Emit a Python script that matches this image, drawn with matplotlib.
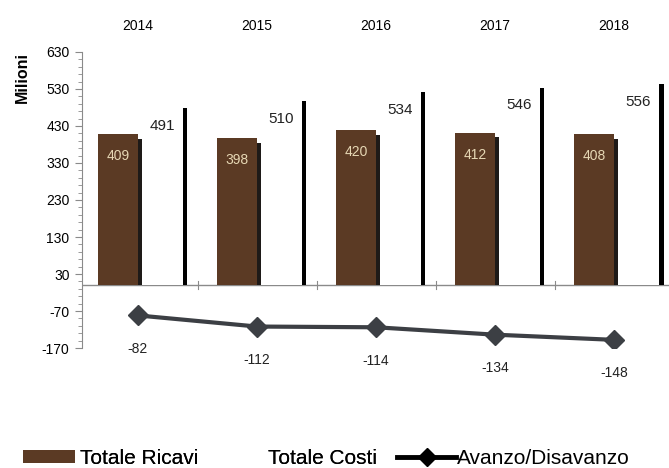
import numpy as np
import matplotlib.pyplot as plt
from matplotlib.patches import Patch
from matplotlib.lines import Line2D

plt.rcParams['font.family'] = ['Liberation Sans', 'DejaVu Sans']
plt.rcParams['axes.unicode_minus'] = False

# ===== data =====
years = ["2014", "2015", "2016", "2017", "2018"]
ricavi = [409, 398, 420, 412, 408]
costi = [491, 510, 534, 546, 556]
avanzo = [-82, -112, -114, -134, -148]

BROWN = "#5b3a24"
SHADOW = "#1e1a18"
LINE = "#3c3f44"

x = np.arange(len(years))
w_front = 0.336
w_side = 0.034
drop = 13  # 3d side sits a bit lower than the front face

fig = plt.figure(figsize=(6.69, 4.68), dpi=100)
ax = fig.add_axes([0.1226, 0.2564, 0.8774, 0.6325])

# Totale Ricavi: brown front + dark side
ax.bar(x - w_front, ricavi, width=w_front, align="edge", color=BROWN, zorder=3)
ax.bar(x, np.array(ricavi) - drop, width=w_side, align="edge", color=SHADOW, zorder=3)

# Totale Costi: white front + black side
ax.bar(x + w_side, costi, width=w_front + 0.01, align="edge", color="white", zorder=3)
ax.bar(x + w_side + w_front + 0.01, np.array(costi) - drop, width=w_side,
       align="edge", color="black", zorder=3)

for i in range(len(years)):
    ax.annotate(str(ricavi[i]), (x[i] - w_front / 2, ricavi[i]), xytext=(0, -16),
                textcoords="offset points", ha="center", va="center",
                color="#e6d7b4", fontsize=10, zorder=5)
    ax.annotate(str(costi[i]), (x[i] + w_side + w_front / 2, costi[i]), xytext=(0, -16),
                textcoords="offset points", ha="center", va="center",
                color="#222222", fontsize=11, zorder=5)
    ax.annotate(str(avanzo[i]), (x[i], avanzo[i]), xytext=(0, -24),
                textcoords="offset points", ha="center", va="center",
                color="#222222", fontsize=10, zorder=5)

# Avanzo/Disavanzo line
ax.plot(x, avanzo, color=LINE, lw=3, marker="D", markersize=10, zorder=4)

# zero line with category boundary ticks
ax.axhline(0, color="#8a8a8a", lw=1, zorder=2)
for b in x[:-1] + 0.5:
    ax.plot([b, b], [-10, 10], color="#8a8a8a", lw=0.8, zorder=2)

ax.set_xlim(-0.47, 4.46)
ax.set_ylim(-170, 630)
ax.set_yticks(np.arange(-170, 631, 100))
ax.set_yticks(np.arange(-170, 631, 20), minor=True)
ax.tick_params(axis="y", which="major", length=5, color="#8a8a8a", labelsize=10, pad=4)
ax.tick_params(axis="y", which="minor", length=3, color="#8a8a8a")

ax.set_xticks(x)
ax.set_xticklabels(years, fontsize=10)
ax.xaxis.tick_top()
ax.tick_params(axis="x", length=0, pad=14)

for s in ["top", "right", "bottom"]:
    ax.spines[s].set_visible(False)
ax.spines["left"].set_color("#8a8a8a")

fig.text(0.033, 0.835, "Milioni", rotation=90, ha="center", va="center",
         fontsize=11.5, fontweight="bold")

leg1 = fig.legend([Patch(facecolor=BROWN, edgecolor="none"),
                   Patch(facecolor="white", edgecolor="none")],
                  ["Totale Ricavi", "Totale Costi"],
                  loc="lower left", bbox_to_anchor=(23 / 669, 0.0), ncol=2,
                  frameon=False, fontsize=15, handlelength=2.5, handleheight=0.6,
                  handletextpad=0.25, columnspacing=0.6, borderpad=0,
                  borderaxespad=0)
fig.add_artist(leg1)
fig.legend([Line2D([0], [0], color="black", lw=3.5, marker="D", markersize=9)],
           ["Avanzo/Disavanzo"],
           loc="lower left", bbox_to_anchor=(397 / 669, 0.0), frameon=False,
           fontsize=15, handlelength=2.85, handletextpad=0.05, borderpad=0,
           borderaxespad=0)

fig.savefig("out.png", dpi=100)
